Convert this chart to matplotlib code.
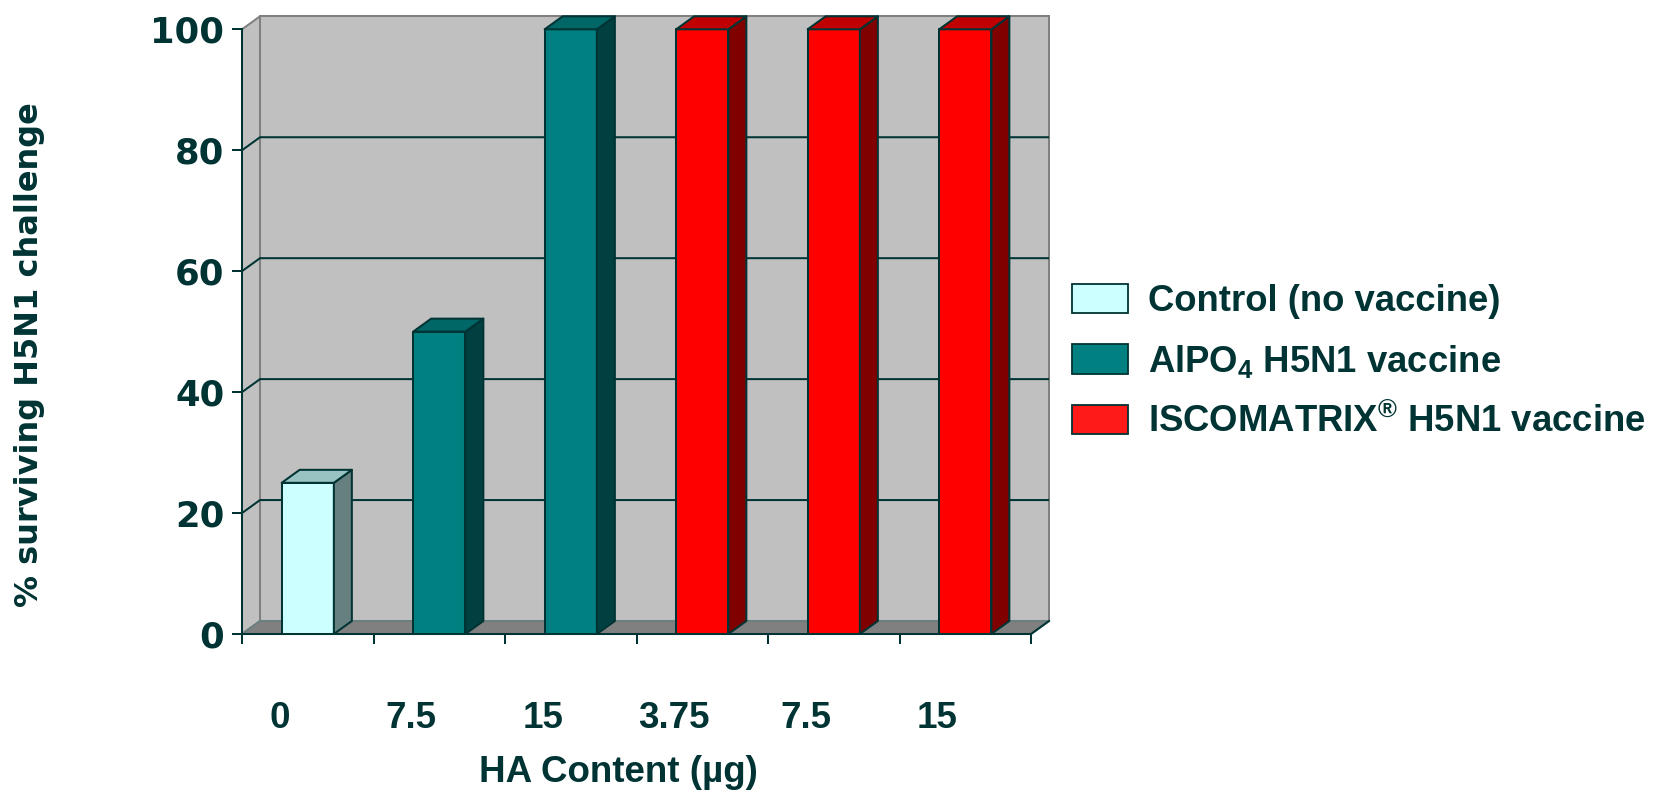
import matplotlib
matplotlib.use("Agg")
import matplotlib.pyplot as plt
from matplotlib.patches import Rectangle, Polygon, Patch
from matplotlib.transforms import ScaledTranslation
import numpy as np

# ---- data ----
categories = ["0", "7.5", "15", "3.75", "7.5", "15"]
values = [25, 50, 100, 100, 100, 100]
groups = ["control", "alpo4", "alpo4", "isco", "isco", "isco"]
series_labels = {
    "control": "Control (no vaccine)",
    "alpo4": r"AlPO$_4$ H5N1 vaccine",
    "isco": r"ISCOMATRIX$^{®}$ H5N1 vaccine",
}
yticks = [0, 20, 40, 60, 80, 100]

# ---- style ----
TXT = "#003333"
face = {"control": "#CCFFFF", "alpo4": "#008080", "isco": "#FF0000"}
top_c = {"control": "#99C2C2", "alpo4": "#006666", "isco": "#C00000"}
side_c = {"control": "#668080", "alpo4": "#004040", "isco": "#800000"}
legend_c = {"control": "#CCFFFF", "alpo4": "#008080", "isco": "#FF1A1A"}

plt.rcParams["font.family"] = ["Liberation Sans", "DejaVu Sans"]
plt.rcParams["font.weight"] = "bold"
plt.rcParams["mathtext.default"] = "regular"

W, H = 1662, 791
fig = plt.figure(figsize=(W / 100, H / 100), dpi=100)
ax = fig.add_axes([242 / W, (H - 634) / H, (1031 - 242) / W, (634 - 29.3) / H])
ax.set_xlim(0, len(categories))
ax.set_ylim(0, 100)
ax.patch.set_visible(False)

# depth offset (pixels) converted to data units
DEPTH_PX = np.array([18.0, 13.0])
p0 = ax.transData.transform((0, 0))
dx, dy = ax.transData.inverted().transform(p0 + DEPTH_PX)
n = len(categories)
lw = 1.45

# walls and floor
ax.add_patch(Polygon([(0, 0), (0, 100), (dx, 100 + dy), (dx, dy)], closed=True,
                     facecolor="#C0C0C0", edgecolor="#808080", lw=lw, zorder=0.5, clip_on=False))
ax.add_patch(Rectangle((dx, dy), n, 100, facecolor="#C0C0C0", edgecolor="#808080",
                       lw=lw, zorder=0.5, clip_on=False))
ax.add_patch(Polygon([(0, 0), (n, 0), (n + dx, dy), (dx, dy)], closed=True,
                     facecolor="#808080", edgecolor="#6A7F7F", lw=lw, zorder=0.6, clip_on=False))
ax.plot([n, n + dx], [0, dy], color=TXT, lw=lw, zorder=0.65, clip_on=False)

for yv in yticks[1:-1]:
    ax.plot([0, dx, n + dx], [yv, yv + dy, yv + dy], color=TXT, lw=lw, zorder=0.7,
            clip_on=False, solid_capstyle="butt")

# bars
bw = 0.397
for i, (v, g) in enumerate(zip(values, groups)):
    x0 = i + 0.5 - bw / 2
    x1 = i + 0.5 + bw / 2
    ax.add_patch(Rectangle((x0, 0), bw, v, facecolor=face[g], edgecolor=TXT, lw=lw,
                           zorder=3, clip_on=False, joinstyle="round"))
    ax.add_patch(Polygon([(x1, 0), (x1 + dx, dy), (x1 + dx, v + dy), (x1, v)], closed=True,
                         facecolor=side_c[g], edgecolor=TXT, lw=lw, zorder=3,
                         clip_on=False, joinstyle="round"))
    ax.add_patch(Polygon([(x0, v), (x1, v), (x1 + dx, v + dy), (x0 + dx, v + dy)], closed=True,
                         facecolor=top_c[g], edgecolor=TXT, lw=lw, zorder=3,
                         clip_on=False, joinstyle="round"))

# axes / spines
for s in ["top", "right"]:
    ax.spines[s].set_visible(False)
for s in ["left", "bottom"]:
    ax.spines[s].set_color(TXT)
    ax.spines[s].set_linewidth(lw)
    ax.spines[s].set_zorder(2.5)

ax.set_yticks(yticks)
ax.set_yticklabels([str(t) for t in yticks], fontfamily="DejaVu Sans",
                   fontweight="bold", fontsize=25.5, color=TXT)
ax.tick_params(axis="y", length=7.2, width=lw, color=TXT, pad=5.5)

ax.set_xticks(np.arange(n + 1))
ax.set_xticklabels([])
ax.set_xticks(np.arange(n) + 0.5, minor=True)
ax.set_xticklabels(categories, minor=True, fontsize=26.5, fontweight="bold", color=TXT)
ax.tick_params(axis="x", which="major", length=7.2, width=lw, color=TXT)
ax.tick_params(axis="x", which="minor", length=0, pad=48)
shift = ScaledTranslation(-0.28, 0, fig.dpi_scale_trans)
for lab in ax.get_xticklabels(minor=True):
    lab.set_transform(lab.get_transform() + shift)

# axis titles
fig.text(618 / W, (H - 782) / H, "HA Content (µg)", ha="center", va="baseline",
         fontsize=26.5, fontweight="bold", color=TXT)
fig.text(30 / W, (H - 355) / H, "% surviving H5N1 challenge", rotation=90,
         ha="center", va="center", fontfamily="DejaVu Sans", fontweight="bold",
         fontsize=23, color=TXT)

# legend
order = ["control", "alpo4", "isco"]
handles = [Patch(facecolor=legend_c[g], edgecolor=TXT, lw=1.3) for g in order]
fig.legend(handles, [series_labels[g] for g in order], loc="upper left",
           bbox_to_anchor=(1072 / W, (H - 284) / H), frameon=False,
           labelcolor=TXT, handlelength=1.53, handleheight=0.85,
           handletextpad=0.55, labelspacing=0.64, borderpad=0, borderaxespad=0,
           prop={"weight": "bold", "size": 26.3})

fig.savefig("out.png", dpi=100)
